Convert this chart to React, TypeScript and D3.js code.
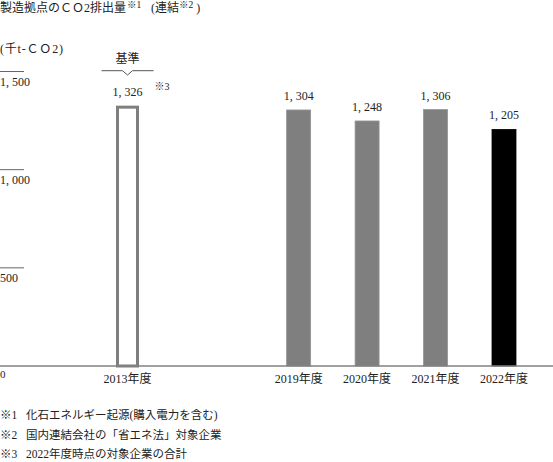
import React from "react";
import * as d3 from "d3";

const categories = ["2013年度", "2019年度", "2020年度", "2021年度", "2022年度"];
const values = [1326, 1304, 1248, 1306, 1205];
const barKinds = ["base", "gray", "gray", "gray", "black"];
const slots = ["2013年度", "g1", "g2", "g3", "g4", "2019年度", "g5", "2020年度", "g6", "2021年度", "g7", "2022年度"];
const yTicks = [500, 1000, 1500];
const footnoteMarks = ["※1", "※2", "※3"];
const footnotes = [
  "化石エネルギー起源(購入電力を含む)",
  "国内連結会社の「省エネ法」対象企業",
  "2022年度時点の対象企業の合計",
];

const W = 553;
const H = 462;
const FONT = "'Liberation Serif', 'DejaVu Serif', 'Noto Sans CJK JP', serif";

export default function App() {
  const x = d3.scalePoint<string>().domain(slots).range([127.5, 504]);
  const y = d3.scaleLinear().domain([0, 1500]).range([366, 71.5]);
  const fmt = (v: number) => d3.format(",")(v).replace(",", ", ");
  const barW = 24;
  const cx0 = x(categories[0]) as number;

  return (
    <svg
      width={W}
      height={H}
      viewBox={`0 0 ${W} ${H}`}
      style={{ position: "fixed", left: 0, top: 0, background: "#fff" }}
      fontFamily={FONT}
    >
      <rect x={0} y={0} width={W} height={H} fill="#fff" />
      {/* title */}
      <text x={0} y={12} fontSize={12} fill="#222">
        製造拠点のＣＯ2排出量
        <tspan fontSize={9.5} dy={-4} dx={1}>※1</tspan>
      </text>
      <text x={151} y={12} fontSize={12} fill="#222">
        (連結
        <tspan fontSize={9.5} dy={-4}>※2</tspan>
        <tspan fontSize={12} dy={4} dx={3}>)</tspan>
      </text>
      <text x={0} y={53} fontSize={12} letterSpacing={0.8} fill="#222">(千t-ＣＯ2)</text>

      {/* y ticks */}
      {yTicks.map((t) => (
        <g key={t}>
          <line x1={0} x2={24} y1={y(t)} y2={y(t)} stroke="#666" strokeWidth={1} />
          <text x={0} y={y(t) + 14} fontSize={12} fill="#222">{fmt(t)}</text>
        </g>
      ))}
      <text x={0} y={378} fontSize={11} fill="#222">0</text>

      {/* bars */}
      {categories.map((c, i) => {
        const cx = x(c) as number;
        const v = values[i];
        const k = barKinds[i];
        if (k === "base") {
          return (
            <rect key={c} x={cx - 10} y={y(v) + 1.5} width={20} height={y(0) - y(v) - 1.5}
              fill="#fff" stroke="#7f7f7f" strokeWidth={3} />
          );
        }
        return (
          <rect key={c} x={cx - barW / 2} y={y(v)} width={barW} height={y(0) - y(v)}
            fill={k === "black" ? "#000" : "#7f7f7f"} stroke={k === "black" ? "#000" : "#959595"} strokeWidth={0.8} />
        );
      })}

      {/* baseline */}
      <line x1={0} x2={W} y1={y(0)} y2={y(0)} stroke="#808080" strokeWidth={1.5} />

      {/* value labels */}
      {categories.map((c, i) => (
        <text key={c} x={x(c) as number} y={y(values[i]) - 10} fontSize={12} textAnchor="middle" fill="#222">
          {fmt(values[i])}
        </text>
      ))}
      <text x={cx0 + 27} y={90} fontSize={10} fill="#222">※3</text>

      {/* 基準 bracket */}
      <text x={cx0} y={63} fontSize={12} textAnchor="middle" fill="#222">基準</text>
      <path
        d={`M${cx0 - 26},70.7 H${cx0 - 5} L${cx0},75 L${cx0 + 5},70.7 H${cx0 + 26}`}
        fill="none" stroke="#555" strokeWidth={1}
      />

      {/* category labels */}
      {categories.map((c) => (
        <text key={c} x={x(c) as number} y={383} fontSize={12} textAnchor="middle" fill="#222">{c}</text>
      ))}

      {/* footnotes */}
      {footnotes.map((f, i) => (
        <g key={f}>
          <text x={0} y={419 + i * 19.5} fontSize={11.5} fill="#222">{footnoteMarks[i]}</text>
          <text x={26} y={419 + i * 19.5} fontSize={11.5} fill="#222">{f}</text>
        </g>
      ))}
    </svg>
  );
}
